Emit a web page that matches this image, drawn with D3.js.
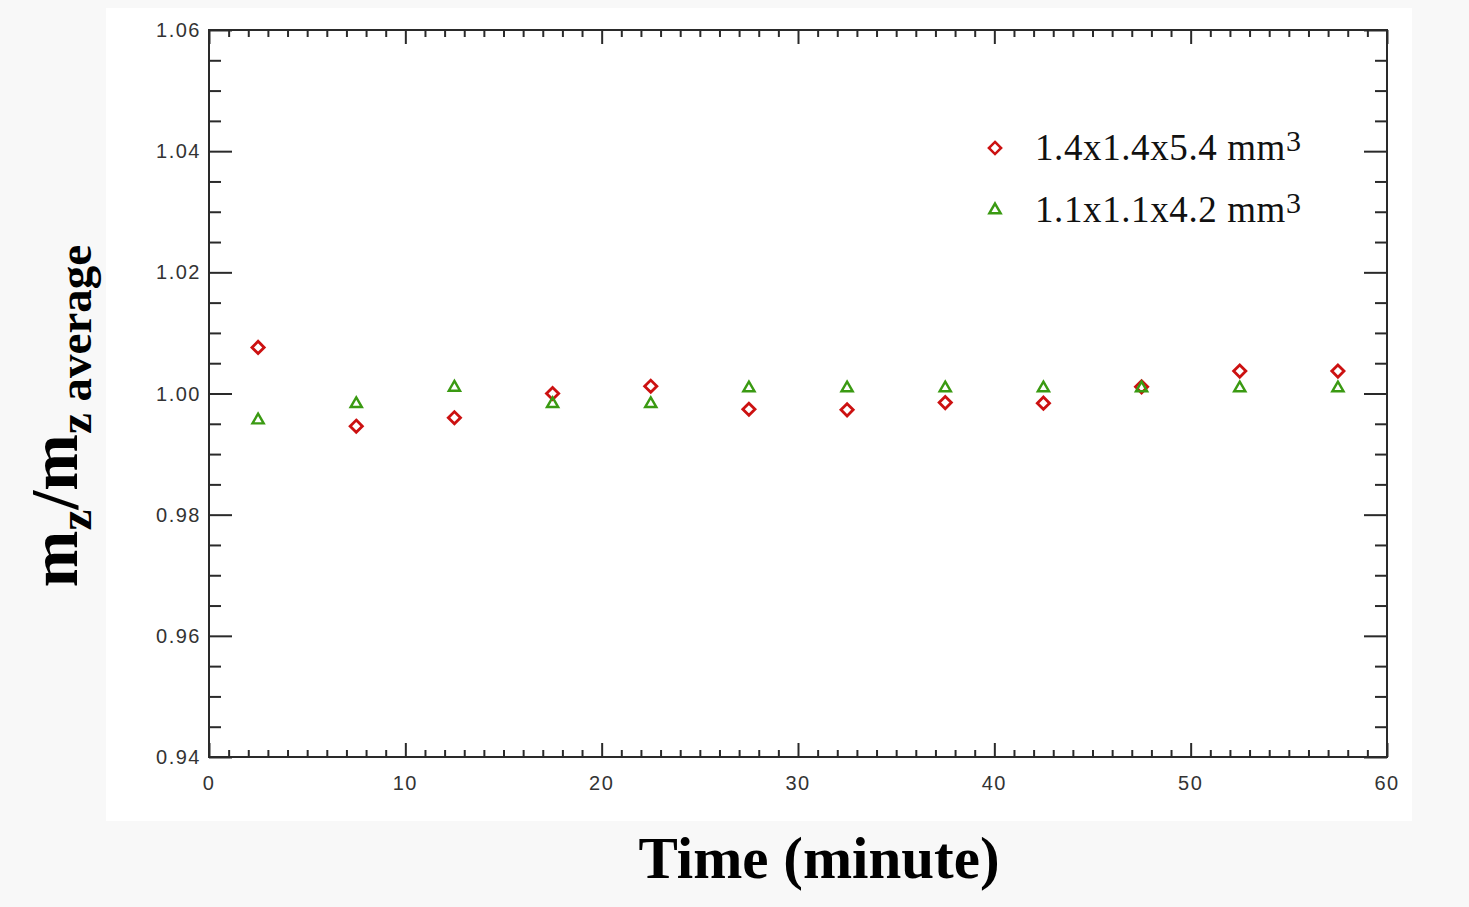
<!DOCTYPE html>
<html>
<head>
<meta charset="utf-8">
<script src="https://cdn.jsdelivr.net/npm/d3@7"></script>
<style>
  html, body { margin: 0; padding: 0; background: #f8f8f8; }
  svg { display: block; }
</style>
</head>
<body>
<div id="chart"></div>
<script>
// time points (minutes)
const times = [2.5, 7.5, 12.5, 17.5, 22.5, 27.5, 32.5, 37.5, 42.5, 47.5, 52.5, 57.5];
// 1.4x1.4x5.4 mm3 voxel
const largeVoxel = [1.0076, 0.9946, 0.9960, 1.0000, 1.0012, 0.9974, 0.9973, 0.9985, 0.9984, 1.0011, 1.0037, 1.0037];
// 1.1x1.1x4.2 mm3 voxel
const smallVoxel = [0.9956, 0.9983, 1.0010, 0.9983, 0.9983, 1.0009, 1.0009, 1.0009, 1.0009, 1.0009, 1.0009, 1.0009];
const xTicks = [0, 10, 20, 30, 40, 50, 60];
const yTicks = [0.94, 0.96, 0.98, 1.00, 1.02, 1.04, 1.06];
const legendLabels = ['1.4x1.4x5.4 mm', '1.1x1.1x4.2 mm'];

const width = 1469;
const height = 907;
const plot = { left: 209, right: 1387, top: 30, bottom: 757 };
const axisColor = '#2a2a2a';
const tickFont = '"Liberation Sans", Arial, sans-serif';
const serif = '"Liberation Serif", "Times New Roman", serif';

const svg = d3.select('#chart').append('svg')
  .attr('width', width)
  .attr('height', height);

// white panel behind the plot
svg.append('rect')
  .attr('x', 106).attr('y', 8)
  .attr('width', 1306).attr('height', 813)
  .attr('fill', '#ffffff');

const x = d3.scaleLinear().domain([0, 60]).range([plot.left, plot.right]);
const y = d3.scaleLinear().domain([0.94, 1.06]).range([plot.bottom, plot.top]);

const drawTicks = (axisGen, tx, ty, len) => {
  svg.append('g')
    .attr('transform', `translate(${tx},${ty})`)
    .call(axisGen.tickSizeInner(-len).tickSizeOuter(0).tickFormat(''))
    .call(g => g.select('.domain').remove())
    .call(g => g.selectAll('line').attr('stroke', axisColor).attr('stroke-width', 2));
};

const xMinor = d3.range(0, 61, 1).filter(v => v % 10 !== 0);
const yMinor = d3.range(0, 25).map(i => 0.94 + i * 0.005).filter((v, i) => i % 4 !== 0);

// inward ticks on all four sides
drawTicks(d3.axisBottom(x).tickValues(xTicks), 0, plot.bottom, 14);
drawTicks(d3.axisBottom(x).tickValues(xMinor), 0, plot.bottom, 7);
drawTicks(d3.axisTop(x).tickValues(xTicks), 0, plot.top, 14);
drawTicks(d3.axisTop(x).tickValues(xMinor), 0, plot.top, 7);
drawTicks(d3.axisLeft(y).tickValues(yTicks), plot.left, 0, 23);
drawTicks(d3.axisLeft(y).tickValues(yMinor), plot.left, 0, 12);
drawTicks(d3.axisRight(y).tickValues(yTicks), plot.right, 0, 23);
drawTicks(d3.axisRight(y).tickValues(yMinor), plot.right, 0, 12);

svg.append('rect')
  .attr('x', plot.left).attr('y', plot.top)
  .attr('width', plot.right - plot.left).attr('height', plot.bottom - plot.top)
  .attr('fill', 'none')
  .attr('stroke', axisColor)
  .attr('stroke-width', 2);

// tick labels
svg.append('g').selectAll('text')
  .data(xTicks)
  .join('text')
  .attr('x', d => x(d))
  .attr('y', plot.bottom + 33)
  .attr('text-anchor', 'middle')
  .attr('font-family', tickFont)
  .attr('font-size', 20)
  .attr('letter-spacing', 1.5)
  .attr('fill', '#333')
  .text(d => d);

svg.append('g').selectAll('text')
  .data(yTicks)
  .join('text')
  .attr('x', plot.left - 8)
  .attr('y', d => y(d) + 7)
  .attr('text-anchor', 'end')
  .attr('font-family', tickFont)
  .attr('font-size', 20)
  .attr('letter-spacing', 1.5)
  .attr('fill', '#333')
  .text(d => d.toFixed(2));

// markers
const redColor = '#cc1111';
const greenColor = '#3a9a12';
const diamond = d3.symbol().type(d3.symbolDiamond2).size(95);
const triangle = d3.symbol().type(d3.symbolTriangle2).size(90);

svg.append('g').selectAll('path')
  .data(times.map((t, i) => ({ t, v: largeVoxel[i] })))
  .join('path')
  .attr('transform', d => `translate(${x(d.t)},${y(d.v)})`)
  .attr('d', diamond)
  .attr('fill', 'none')
  .attr('stroke', redColor)
  .attr('stroke-width', 2.8);

svg.append('g').selectAll('path')
  .data(times.map((t, i) => ({ t, v: smallVoxel[i] })))
  .join('path')
  .attr('transform', d => `translate(${x(d.t)},${y(d.v)})`)
  .attr('d', triangle)
  .attr('fill', 'none')
  .attr('stroke', greenColor)
  .attr('stroke-width', 2.4);

// legend
const legend = svg.append('g');
const legendRows = [
  { label: legendLabels[0], y: 148, symbol: diamond, color: redColor },
  { label: legendLabels[1], y: 210, symbol: triangle, color: greenColor }
];
legendRows.forEach((row) => {
  legend.append('path')
    .attr('transform', `translate(995,${row.y})`)
    .attr('d', row.symbol)
    .attr('fill', 'none')
    .attr('stroke', row.color)
    .attr('stroke-width', 2.5);
  const txt = legend.append('text')
    .attr('x', 1035)
    .attr('y', row.y + 12)
    .attr('font-family', serif)
    .attr('font-size', 37)
    .attr('letter-spacing', 0.6)
    .attr('fill', '#111')
    .text(row.label);
  txt.append('tspan')
    .attr('dy', -9)
    .attr('font-size', 30)
    .text('3');
});

// x axis title
svg.append('text')
  .attr('x', 819)
  .attr('y', 878)
  .attr('text-anchor', 'middle')
  .attr('font-family', serif)
  .attr('font-weight', 'bold')
  .attr('font-size', 59)
  .attr('fill', '#000')
  .text('Time (minute)');

// y axis title
const yTitle = svg.append('text')
  .attr('transform', 'translate(77,416) rotate(-90)')
  .attr('text-anchor', 'middle')
  .attr('font-family', serif)
  .attr('font-weight', 'bold')
  .attr('font-size', 68)
  .attr('fill', '#000');
yTitle.append('tspan').text('m');
yTitle.append('tspan').attr('font-size', 47).attr('dy', 14).text('z');
yTitle.append('tspan').attr('dy', -14).text('/m');
yTitle.append('tspan').attr('font-size', 47).attr('dy', 14).text('z average');
</script>
</body>
</html>
